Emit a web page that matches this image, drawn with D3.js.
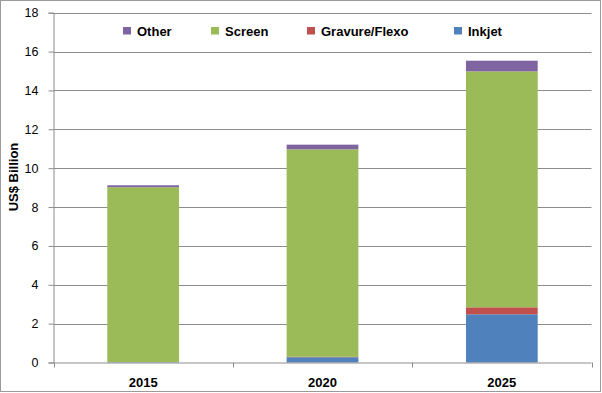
<!DOCTYPE html>
<html>
<head>
<meta charset="utf-8">
<script src="https://cdn.jsdelivr.net/npm/d3@7"></script>
<style>
  body { margin: 0; background: #fff; }
  text { font-family: "Liberation Sans", Arial, sans-serif; fill: #000; }
</style>
</head>
<body>
<svg width="602" height="393"></svg>
<script>
// data
var years = ["2015", "2020", "2025"];
var inkjetValues = [0.02, 0.27, 2.48];
var gravureValues = [0.0, 0.02, 0.36];
var screenValues = [9.0, 10.68, 12.14];
var otherValues = [0.1, 0.24, 0.55];
var yTicks = [0, 2, 4, 6, 8, 10, 12, 14, 16, 18];

var seriesNames = ["Inkjet", "Gravure/Flexo", "Screen", "Other"];
var colors = { "Inkjet": "#4f81bd", "Gravure/Flexo": "#c0504d", "Screen": "#9bbb59", "Other": "#8064a2" };
var legendOrder = ["Other", "Screen", "Gravure/Flexo", "Inkjet"];

var rows = years.map(function (y, i) {
    return { year: y, "Inkjet": inkjetValues[i], "Gravure/Flexo": gravureValues[i], "Screen": screenValues[i], "Other": otherValues[i] };
});

var svg = d3.select("svg"),
    width = +svg.attr("width"),
    height = +svg.attr("height");

var plotLeft = 53.5, plotRight = 591.5, plotTop = 12.7, plotBottom = 362.5;

// outer chart border
svg.append("rect")
    .attr("x", 0.5).attr("y", 0.5)
    .attr("width", width - 2).attr("height", height - 2)
    .attr("fill", "none").attr("stroke", "#9a9a9a");

var x = d3.scaleBand().domain(years).range([plotLeft, plotRight]).paddingInner(0.6).paddingOuter(0.3);
var xb = d3.scaleBand().domain(years).range([plotLeft, plotRight]);
var y = d3.scaleLinear().domain([0, 18]).range([plotBottom, plotTop]);

// gridlines
svg.append("g")
    .selectAll("line")
    .data(yTicks.filter(function (d) { return d > 0; }))
    .enter()
    .append("line")
    .attr("x1", plotLeft).attr("x2", plotRight)
    .attr("y1", function (d) { return Math.round(y(d)) + 0.5; })
    .attr("y2", function (d) { return Math.round(y(d)) + 0.5; })
    .attr("stroke", "#8c8c8c");

// stacked bars
var stack = d3.stack().keys(seriesNames);
var layers = stack(rows);

svg.append("g")
    .selectAll("g")
    .data(layers)
    .enter()
    .append("g")
    .attr("fill", function (d) { return colors[d.key]; })
    .selectAll("rect")
    .data(function (d) { return d; })
    .enter()
    .append("rect")
    .attr("x", function (d) { return x(d.data.year); })
    .attr("width", x.bandwidth())
    .attr("y", function (d) { return y(d[1]); })
    .attr("height", function (d) { return y(d[0]) - y(d[1]); });

// y axis
var yAxis = svg.append("g")
    .attr("transform", "translate(" + plotLeft + ",0)")
    .call(d3.axisLeft(y).tickValues(yTicks).tickSize(5).tickPadding(10));
yAxis.select(".domain").attr("stroke", "#8c8c8c");
yAxis.selectAll(".tick line").attr("stroke", "#8c8c8c");
yAxis.selectAll(".tick text")
    .style("font-size", "12.5px")
    .attr("fill", "#000");

// x axis
var xAxisG = svg.append("g")
    .attr("transform", "translate(0," + plotBottom + ")");
xAxisG.append("line")
    .attr("x1", plotLeft).attr("x2", plotRight)
    .attr("y1", 0.5).attr("y2", 0.5)
    .attr("stroke", "#8c8c8c");
xAxisG.selectAll(".tk")
    .data(years.concat(["end"]))
    .enter()
    .append("line")
    .attr("x1", function (d, i) { return Math.round(plotLeft + i * xb.bandwidth()) + 0.5; })
    .attr("x2", function (d, i) { return Math.round(plotLeft + i * xb.bandwidth()) + 0.5; })
    .attr("y1", 0).attr("y2", 5)
    .attr("stroke", "#8c8c8c");
xAxisG.selectAll("text")
    .data(years)
    .enter()
    .append("text")
    .attr("x", function (d) { return x(d) + x.bandwidth() / 2; })
    .attr("y", 24.5)
    .attr("text-anchor", "middle")
    .style("font-size", "13px")
    .style("font-weight", "bold")
    .text(function (d) { return d; });

// y label
svg.append("text")
    .attr("transform", "translate(18,177) rotate(-90)")
    .attr("text-anchor", "middle")
    .style("font-size", "13px")
    .style("font-weight", "bold")
    .text("US$ Billion");

// legend
var legendX = [123, 211, 307, 454];
var legend = svg.append("g")
    .selectAll("g")
    .data(legendOrder)
    .enter()
    .append("g")
    .attr("transform", function (d, i) { return "translate(" + legendX[i] + ",27)"; });
legend.append("rect")
    .attr("width", 8).attr("height", 7.5)
    .attr("fill", function (d) { return colors[d]; });
legend.append("text")
    .attr("x", 14).attr("y", 8.7)
    .style("font-size", "13px")
    .style("font-weight", "bold")
    .text(function (d) { return d; });
</script>
</body>
</html>
